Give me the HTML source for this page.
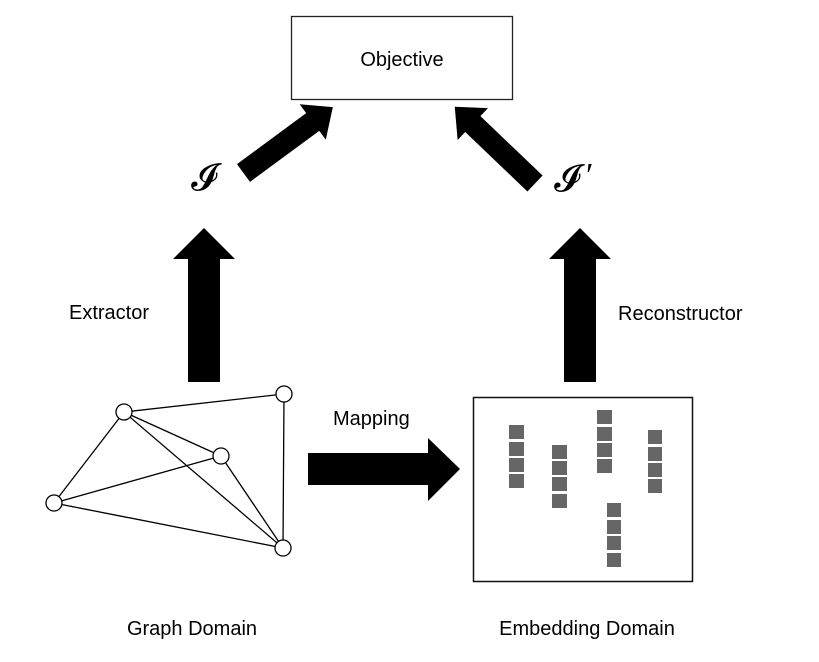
<!DOCTYPE html>
<html><head><style>body{margin:0;background:#fff}svg{display:block}</style></head>
<body>
<svg width="819" height="662" xmlns="http://www.w3.org/2000/svg" font-family="Liberation Sans, sans-serif">
<rect x="291.5" y="16.5" width="221" height="83" fill="#fff" stroke="#222" stroke-width="1.3"/>
<text x="402" y="66" font-size="20" text-anchor="middle">Objective</text>
<g transform="translate(243.5,173) rotate(-36.4)">
<polygon points="0,-11 86,-11 86,-22 111,0 86,22 86,11 0,11" fill="#000"/>
</g>
<g transform="translate(535,183.5) rotate(-136.3)">
<polygon points="0,-11 86,-11 86,-22 111,0 86,22 86,11 0,11" fill="#000"/>
</g>
<polygon points="188,382 220,382 220,259 235,259 204,228 173,259 188,259" fill="#000"/>
<polygon points="564,382 596,382 596,259 611,259 580,228 549,259 564,259" fill="#000"/>
<polygon points="308,453 428,453 428,438 460,469 428,501 428,485 308,485" fill="#000"/>
<text x="204" y="190" font-size="38" font-family="DejaVu Serif, DejaVu Sans, serif" text-anchor="middle">𝓘</text>
<text x="567" y="191" font-size="38" font-family="DejaVu Serif, DejaVu Sans, serif" text-anchor="middle">𝓘</text>
<text x="586" y="186" font-size="34" font-family="Liberation Serif, serif">′</text>
<text x="69" y="319" font-size="20">Extractor</text>
<text x="618" y="320" font-size="20">Reconstructor</text>
<text x="333" y="425" font-size="20">Mapping</text>
<text x="192" y="635" font-size="20" text-anchor="middle">Graph Domain</text>
<text x="587" y="635" font-size="20" text-anchor="middle">Embedding Domain</text>
<g stroke="#000" stroke-width="1.3" fill="none">
<line x1="124" y1="412" x2="284" y2="394"/>
<line x1="124" y1="412" x2="221" y2="456"/>
<line x1="124" y1="412" x2="54" y2="503"/>
<line x1="124" y1="412" x2="283" y2="548"/>
<line x1="284" y1="394" x2="283" y2="548"/>
<line x1="54" y1="503" x2="221" y2="456"/>
<line x1="54" y1="503" x2="283" y2="548"/>
<line x1="221" y1="456" x2="283" y2="548"/>
</g>
<g stroke="#000" stroke-width="1.3" fill="#fff">
<circle cx="124" cy="412" r="8"/><circle cx="284" cy="394" r="8"/><circle cx="221" cy="456" r="8"/><circle cx="54" cy="503" r="8"/><circle cx="283" cy="548" r="8"/>
</g>
<rect x="473.5" y="397.5" width="219" height="184" fill="#fff" stroke="#111" stroke-width="1.5"/>
<g fill="#666">
<rect x="509" y="425" width="15" height="14"/><rect x="509" y="442" width="15" height="14"/><rect x="509" y="458" width="15" height="14"/><rect x="509" y="474" width="15" height="14"/>
<rect x="552" y="445" width="15" height="14"/><rect x="552" y="461" width="15" height="14"/><rect x="552" y="477" width="15" height="14"/><rect x="552" y="494" width="15" height="14"/>
<rect x="597" y="410" width="15" height="14"/><rect x="597" y="427" width="15" height="14"/><rect x="597" y="443" width="15" height="14"/><rect x="597" y="459" width="15" height="14"/>
<rect x="648" y="430" width="14" height="14"/><rect x="648" y="447" width="14" height="14"/><rect x="648" y="463" width="14" height="14"/><rect x="648" y="479" width="14" height="14"/>
<rect x="607" y="503" width="14" height="14"/><rect x="607" y="520" width="14" height="14"/><rect x="607" y="536" width="14" height="14"/><rect x="607" y="553" width="14" height="14"/>
</g>
</svg>
</body></html>
